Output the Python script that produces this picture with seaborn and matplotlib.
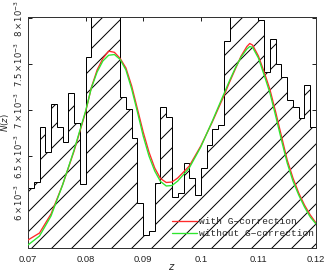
import numpy as np
import matplotlib
matplotlib.use('Agg')
import matplotlib.pyplot as plt
import seaborn as sns

# N(z) histogram, 50 bins of width 0.001 between z=0.07 and z=0.12 (units of 1e-3)
bin_edges = np.linspace(0.07, 0.12, 51)
hist_vals = [6.149, 6.22, 6.812, 6.547, 7.062, 6.819, 6.649, 7.188, 6.855, 6.196,
             7.579, 8.35, 8.6, 8.7, 8.5, 8.3, 7.138, 7.008, 6.692, 5.985,
             5.641, 5.685, 6.205, 7.029, 6.927, 6.051, 6.101, 6.421, 6.258, 6.076,
             6.366, 6.62, 6.79, 6.84, 7.75, 8.4, 8.6, 8.5, 8.3, 8.2,
             7.98, 7.408, 7.768, 7.497, 7.362, 7.109, 7.036, 6.91, 7.272, 6.818]

# smooth model curves (units of 1e-3)
z_curve = [0.070, 0.072, 0.074, 0.076, 0.078, 0.080, 0.081, 0.082, 0.083, 0.084,
           0.085, 0.086, 0.087, 0.088, 0.089, 0.090, 0.091, 0.092, 0.093, 0.094,
           0.095, 0.096, 0.098, 0.100, 0.102, 0.104, 0.105, 0.106, 0.107, 0.108,
           0.1085, 0.109, 0.110, 0.111, 0.112, 0.113, 0.114, 0.115, 0.116, 0.117,
           0.118, 0.119, 0.120]
n_with = [5.587, 5.663, 5.870, 6.185, 6.554, 6.978, 7.245, 7.435, 7.560, 7.640,
          7.627, 7.560, 7.457, 7.261, 7.011, 6.761, 6.543, 6.370, 6.255, 6.212,
          6.217, 6.261, 6.391, 6.609, 6.870, 7.152, 7.304, 7.446, 7.587, 7.690,
          7.723, 7.705, 7.587, 7.413, 7.223, 6.978, 6.717, 6.457, 6.261, 6.098,
          5.967, 5.859, 5.772]
n_without = [5.533, 5.630, 5.848, 6.185, 6.565, 6.989, 7.240, 7.413, 7.533, 7.595,
             7.603, 7.549, 7.435, 7.228, 6.978, 6.717, 6.500, 6.337, 6.223, 6.174,
             6.179, 6.228, 6.370, 6.598, 6.880, 7.174, 7.320, 7.457, 7.576, 7.663,
             7.690, 7.680, 7.565, 7.380, 7.185, 6.935, 6.674, 6.424, 6.228, 6.076,
             5.946, 5.837, 5.761]

x_ticks = [0.07, 0.08, 0.09, 0.1, 0.11, 0.12]
x_ticklabels = ['0.07', '0.08', '0.09', '0.1', '0.11', '0.12']
y_ticks = [6.0, 6.5, 7.0, 7.5, 8.0]
y_ticklabels = [r'$6\times10^{-3}$', r'$6.5\times10^{-3}$', r'$7\times10^{-3}$',
                r'$7.5\times10^{-3}$', r'$8\times10^{-3}$']

sns.set_style('ticks')
plt.rcParams['font.family'] = ['Liberation Sans', 'DejaVu Sans']
plt.rcParams['hatch.linewidth'] = 0.6
plt.rcParams['mathtext.fontset'] = 'dejavusans'

dpi = 120
fig = plt.figure(figsize=(326 / dpi, 271 / dpi), dpi=dpi)
ax = fig.add_axes([0.0859, 0.0849, 0.8834, 0.8524])

ax.stairs(hist_vals, bin_edges, baseline=0, fill=True, facecolor='white',
          edgecolor='black', hatch='//', linewidth=0.6, zorder=1)

sns.lineplot(x=z_curve, y=n_with, color='#ff2a2a', linewidth=0.8,
             label='with G\u2212correction', ax=ax, zorder=3)
sns.lineplot(x=z_curve, y=n_without, color='#2ee62e', linewidth=0.8,
             label='without G\u2212correction', ax=ax, zorder=4)

ax.set_xlim(0.07, 0.12)
ax.set_ylim(5.5, 8.011)
ax.set_xticks(x_ticks)
ax.set_xticklabels(x_ticklabels)
ax.set_yticks(y_ticks)
ax.set_yticklabels(y_ticklabels, rotation=90, va='center')
ax.tick_params(direction='in', length=2.4, width=0.6, top=True, right=True,
               labelsize=5.6, colors='#222222', pad=3)
ax.tick_params(axis='y', labelsize=5.1, pad=2)
ax.tick_params(axis='x', pad=4)
for sp in ax.spines.values():
    sp.set_linewidth(0.6)
    sp.set_color('#333333')

ax.set_xlabel('$z$', fontsize=6)
ax.xaxis.set_label_coords(0.5, -0.062)
ax.set_ylabel('$N(z)$', fontsize=5.2)
ax.yaxis.set_label_coords(-0.058, 0.545)

leg = ax.legend(loc='upper left', bbox_to_anchor=(0.5, 0.133), frameon=False,
                borderpad=0, borderaxespad=0, handlelength=2.6, handletextpad=0.2,
                labelspacing=0.3,
                prop={'family': ['Liberation Mono', 'DejaVu Sans Mono'], 'size': 5.7})

fig.savefig('out.png', dpi=dpi)
